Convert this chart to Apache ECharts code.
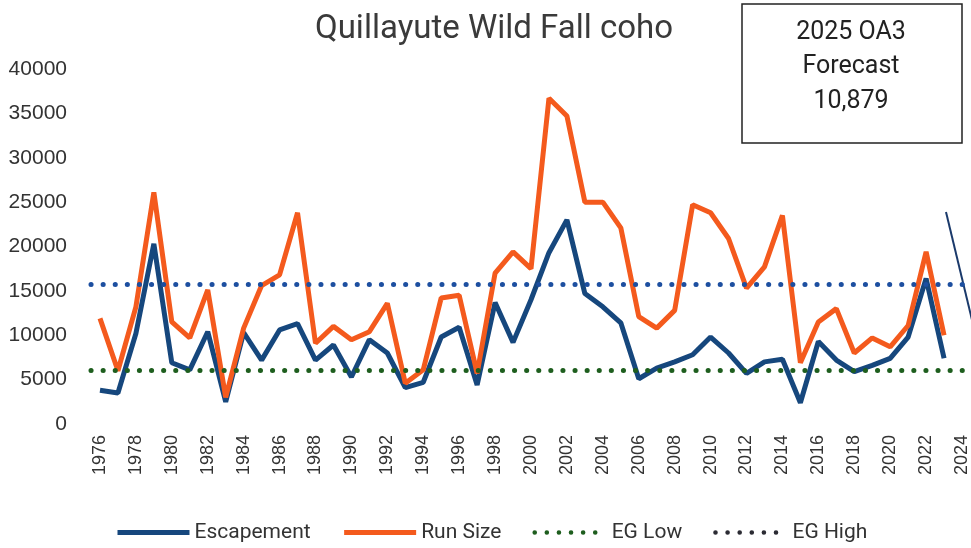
<!DOCTYPE html>
<html>
<head>
<meta charset="utf-8">
<script src="https://cdn.jsdelivr.net/npm/echarts@6/dist/echarts.min.js"></script>
<style>
  html, body { margin: 0; padding: 0; background: #fff; }
  #chart { width: 971px; height: 548px; }
</style>
</head>
<body>
<div id="chart"></div>
<script>
// categories (2024 has no data yet, only a tick label)
const years = ['1976','1977','1978','1979','1980','1981','1982','1983','1984','1985',
  '1986','1987','1988','1989','1990','1991','1992','1993','1994','1995',
  '1996','1997','1998','1999','2000','2001','2002','2003','2004','2005',
  '2006','2007','2008','2009','2010','2011','2012','2013','2014','2015',
  '2016','2017','2018','2019','2020','2021','2022','2023','2024'];

// Escapement, 1976-2023
const escapement = [3800, 3500, 10200, 20300, 6900, 6100, 10400, 2500, 10300, 7200,
  10600, 11300, 7200, 8900, 5300, 9500, 8000, 4100, 4700, 9800,
  10900, 4400, 13700, 9200, 14000, 19300, 23000, 14700, 13200, 11400,
  5100, 6300, 7000, 7800, 9800, 8000, 5700, 7000, 7300, 2400,
  9300, 7200, 5900, 6600, 7400, 9800, 16400, 7400];

// Run Size, 1976-2023
const runSize = [11900, 6000, 13200, 26100, 11500, 9700, 15100, 3000, 10800, 15600,
  16800, 23800, 9100, 11000, 9500, 10400, 13600, 4600, 6100, 14200,
  14500, 5700, 17000, 19400, 17500, 36700, 34700, 25000, 25000, 22100,
  12100, 10800, 12800, 24700, 23800, 20900, 15300, 17700, 23500, 6900,
  11500, 13000, 8000, 9700, 8700, 11100, 19400, 10000];

// escapement goal range
const egLow = 6100;
const egHigh = 15700;

const chartTitle = 'Quillayute Wild Fall coho';
const forecastLines = ['2025 OA3', 'Forecast', '10,879'];

const chart = echarts.init(document.getElementById('chart'));

const dots = [0.1, 12];

function egSeries(name, value, color) {
  return {
    name: name,
    type: 'line',
    data: [],
    symbol: 'none',
    lineStyle: { type: dots, width: 5, cap: 'round', color: color },
    itemStyle: { color: color },
    markLine: {
      silent: true,
      symbol: ['none', 'none'],
      label: { show: false },
      lineStyle: { type: dots, width: 5, cap: 'round', color: color },
      data: [{ yAxis: value }]
    }
  };
}

chart.setOption({
  animation: false,
  backgroundColor: '#ffffff',
  textStyle: { fontFamily: 'Roboto, sans-serif' },
  legend: {
    left: 110,
    top: 517,
    itemWidth: 72,
    itemHeight: 6,
    itemGap: 31,
    itemStyle: { opacity: 0 },
    textStyle: { fontSize: 21, color: '#333', fontFamily: 'Roboto' },
    data: [
      { name: 'Escapement', lineStyle: { width: 5 } },
      { name: 'Run Size', lineStyle: { width: 5 } },
      { name: 'EG Low', lineStyle: { type: [0.1, 12], width: 4.5, cap: 'round', color: '#1e5e1e' } },
      { name: 'EG High', lineStyle: { type: [0.1, 12], width: 4.5, cap: 'round', color: '#2b2b33' } }
    ]
  },
  grid: { left: 91, right: -2, top: 69, bottom: 124 },
  xAxis: {
    type: 'category',
    data: years,
    boundaryGap: true,
    axisLine: { show: false },
    axisTick: { show: false },
    axisLabel: {
      rotate: 90,
      interval: 1,
      margin: 11,
      fontSize: 18,
      color: '#333',
      fontFamily: 'Liberation Sans'
    }
  },
  yAxis: {
    type: 'value',
    min: 0,
    max: 40000,
    interval: 5000,
    axisLine: { show: false },
    axisTick: { show: false },
    splitLine: { show: false },
    axisLabel: {
      fontSize: 21,
      color: '#333',
      margin: 24,
      fontFamily: 'Liberation Sans',
      formatter: function (v) { return String(v); }
    }
  },
  series: [
    egSeries('EG High', egHigh, '#1d4fa0'),
    egSeries('EG Low', egLow, '#1e5e1e'),
    {
      name: 'Escapement',
      type: 'line',
      data: escapement,
      symbol: 'none',
      lineStyle: { width: 5, color: '#16477d' },
      itemStyle: { color: '#16477d' }
    },
    {
      name: 'Run Size',
      type: 'line',
      data: runSize,
      symbol: 'none',
      lineStyle: { width: 5, color: '#f45a1d' },
      itemStyle: { color: '#f45a1d' }
    }
  ],
  graphic: [
    {
      type: 'text',
      x: 494, y: 30,
      style: { text: chartTitle, font: '33px Roboto', fill: '#3a3a3a', align: 'center', verticalAlign: 'middle' }
    },
    {
      type: 'rect',
      shape: { x: 742, y: 4, width: 220, height: 139 },
      style: { fill: '#fff', stroke: '#222', lineWidth: 1.5 }
    },
    {
      type: 'text',
      x: 851, y: 33,
      style: { text: forecastLines[0], font: '25px Roboto', fill: '#222', align: 'center', verticalAlign: 'middle' }
    },
    {
      type: 'text',
      x: 851, y: 67,
      style: { text: forecastLines[1], font: '25px Roboto', fill: '#222', align: 'center', verticalAlign: 'middle' }
    },
    {
      type: 'text',
      x: 851, y: 102,
      style: { text: forecastLines[2], font: '25px Roboto', fill: '#222', align: 'center', verticalAlign: 'middle' }
    },
    {
      // arrow pointing off the right edge
      type: 'line',
      shape: { x1: 946, y1: 212, x2: 972, y2: 320 },
      style: { stroke: '#1b3a6b', lineWidth: 2 }
    }
  ]
});
</script>
</body>
</html>
